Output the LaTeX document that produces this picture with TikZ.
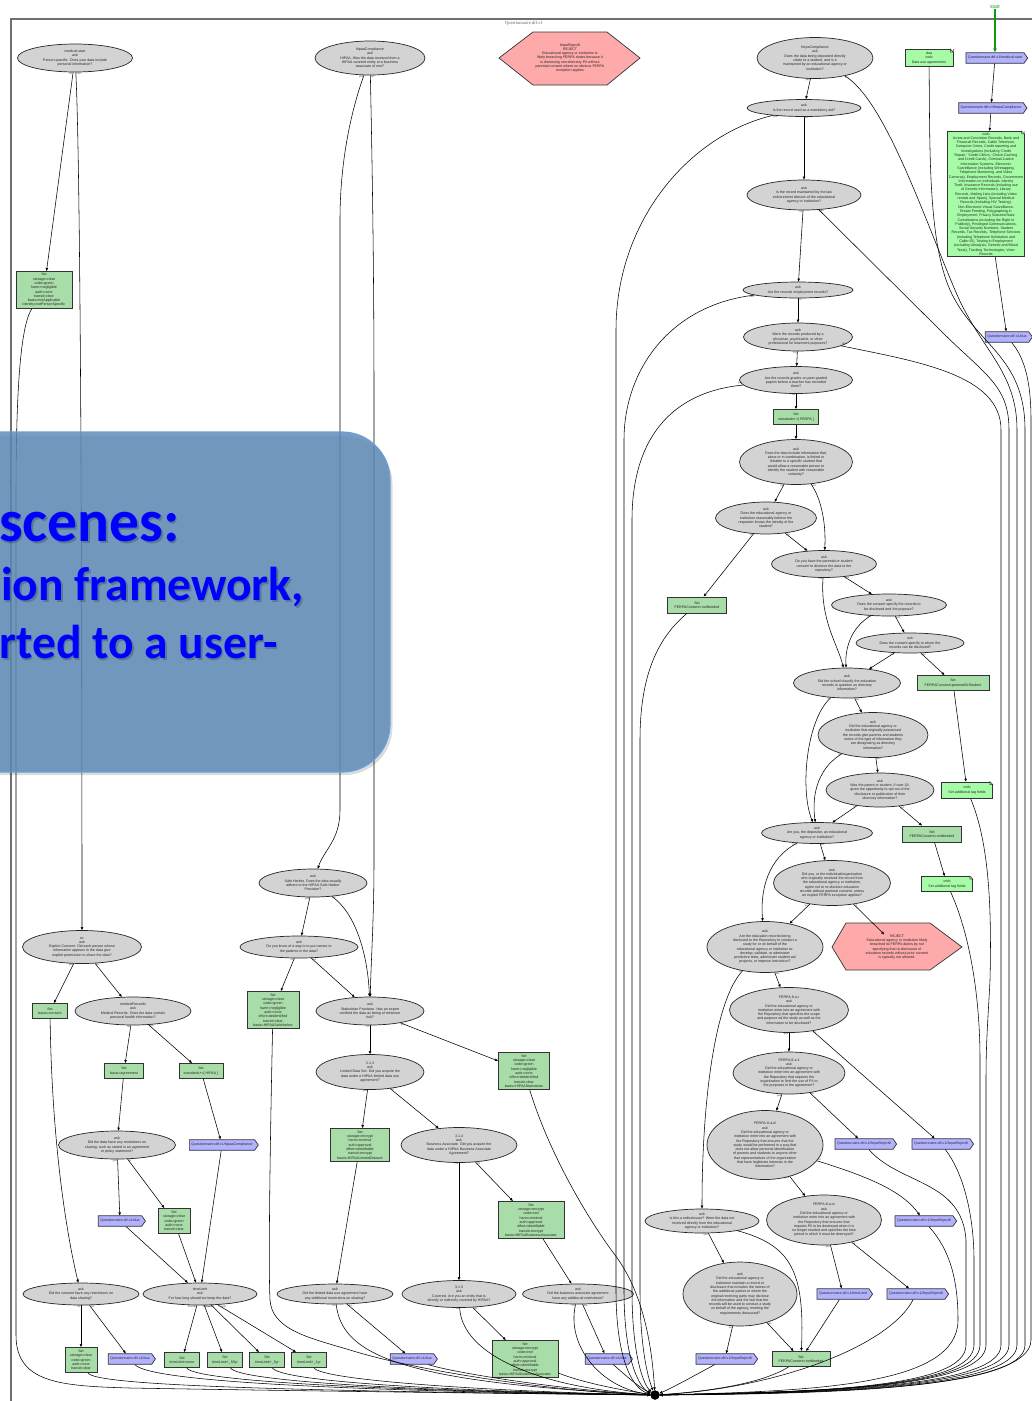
\documentclass[tikz,border=0pt]{standalone}
\usepackage{fontspec}
\setmainfont{Liberation Serif}
\setsansfont{Liberation Sans}
\newfontfamily\ovfont{Carlito}
\usetikzlibrary{shapes.geometric,shapes.symbols,arrows.meta}
\definecolor{askfill}{HTML}{D3D3D3}
\definecolor{setfill}{HTML}{A8DCA8}
\definecolor{todofill}{HTML}{A6FCA6}
\definecolor{qfill}{HTML}{B2B2FF}
\definecolor{rejfill}{HTML}{FFAAAA}
\definecolor{ovfill}{HTML}{5E8AB6}
\definecolor{ovedge}{HTML}{6A9FD6}
\definecolor{framegray}{HTML}{707070}
\definecolor{startgreen}{HTML}{109A10}
\tikzset{
  tx/.style={font=\sffamily\fontsize{3.6}{4.3}\selectfont, align=center, text=black!85},
  ask/.style={tx, ellipse, draw=black!85, line width=0.7pt, fill=askfill, inner sep=0pt},
  setb/.style={tx, rectangle, draw=black!80, line width=0.9pt, fill=setfill, inner sep=1pt},
  todo/.style={tx, rectangle, draw=black!80, line width=0.7pt, fill=todofill, inner sep=1.2pt},
  qlink/.style={tx, signal, signal to=east, signal pointer angle=110, draw=black!80, line width=0.7pt, fill=qfill, inner xsep=2pt, inner ysep=1pt, minimum height=10.5},
  rejtxt/.style={tx, inner sep=0pt},
  edge/.style={draw=black, line width=0.55pt, -{Triangle[length=3pt,width=2.4pt]}},
  gedge/.style={draw=startgreen, line width=1.1pt, -{Triangle[length=4pt,width=3.2pt]}},
  lbl/.style={font=\sffamily\fontsize{2.7}{3}\selectfont, text=black!75, inner sep=0.4pt},
  lL/.style={lbl, pos=0, anchor=north east},
  lR/.style={lbl, pos=0, anchor=north west},
  ovtxt/.style={anchor=base east, inner sep=0pt, text=blue},
}
\newcommand{\notefold}[1]{%
  \fill[white] (#1.north east) -- ([xshift=-3pt]#1.north east) -- ([yshift=-3pt]#1.north east) -- cycle;
  \draw[line width=0.5pt, black!80] ([xshift=-3pt]#1.north east) -- ([xshift=-3pt,yshift=-3pt]#1.north east) -- ([yshift=-3pt]#1.north east) -- cycle;}
\begin{document}
\begin{tikzpicture}[x=1pt,y=-1pt]
\useasboundingbox (0,0) rectangle (1032,1401);
% frame
\draw[framegray, line width=1.1pt] (11,1420) -- (11,19) -- (1045,19);
\node[font=\rmfamily\fontsize{4.6}{5}\selectfont, text=black!60, inner sep=0] (title) at (524,23) {Questionnaire.dtf-c1};

% ---------- hexagons ----------
\draw[fill=rejfill, line width=0.7pt, draw=black!80] (499,58) -- (533,32) -- (607,32) -- (640,58) -- (607,85) -- (533,85) -- cycle;
\node[rejtxt] (rej1) at (570,58) {ferpaReject8\\REJECT\\Educational agency or institution is\\likely breaching FERPA duties because it\\is disclosing non-directory PII without\\parental consent where no obvious FERPA\\exception applies};
\draw[fill=rejfill, line width=0.7pt, draw=black!80] (832,947) -- (846,923) -- (930,923) -- (962,947) -- (930,970) -- (846,970) -- cycle;
\node[rejtxt] (rej2) at (897,947) {REJECT\\Educational agency or institution likely\\breached its FERPA duties by not\\specifying that re-disclosure of\\education records without prior consent\\is typically not allowed.};

% ---------- top right ----------
\node[font=\sffamily\fontsize{5}{6}\selectfont, text=startgreen, inner sep=0.5pt] (start) at (995,7) {start};
\node[qlink] (qms) at (995,58) {Questionnaire.dtf-c1/medical-start};
\node[qlink] (qfc) at (991,108) {Questionnaire.dtf-c1/ferpaCompliance};
\node[todo] (todobig) at (986,194) {todo\\Arrest and Conviction Records, Bank and\\Financial Records, Cable Television,\\Computer Crime, Credit reporting and\\Investigations (including `Credit\\Repair,' `Credit Clinics,' Check-Cashing\\and Credit Cards), Criminal Justice\\Information Systems, Electronic\\Surveillance (including Wiretapping,\\Telephone Monitoring, and Video\\Cameras), Employment Records, Government\\Information on Individuals, Identity\\Theft, Insurance Records (including use\\of Genetic Information), Library\\Records, Mailing Lists (including Video\\rentals and Spam), Special Medical\\Records (including HIV Testing),\\Non-Electronic Visual Surveillance.\\Breast-Feeding, Polygraphing in\\Employment, Privacy Statutes/State\\Constitutions (including the Right to\\Publicity), Privileged Communications,\\Social Security Numbers, Student\\Records, Tax Records, Telephone Services\\(including Telephone Solicitation and\\Caller ID), Testing in Employment\\(including Urinalysis, Genetic and Blood\\Tests), Tracking Technologies, Voter\\Records};
\notefold{todobig}
\node[qlink] (qduaR) at (1007,337) {Questionnaire.dtf-c1/dua};
\node[todo, minimum width=48, minimum height=17] (duanote) at (929,58) {dua\\todo\\Data use agreements};
\notefold{duanote}

% ---------- FERPA chain ----------
\node[ask, minimum width=116, minimum height=41] (fc) at (815,58) {ferpaCompliance\\ask\\Does the data being deposited directly\\relate to a student, and is it\\maintained by an educational agency or\\institution?};
\node[ask, minimum width=114, minimum height=17] (mand) at (804,108) {ask\\Is the record used as a mandatory aid?};
\node[ask, minimum width=114, minimum height=30] (law) at (804,195) {ask\\Is the record maintained by the law\\enforcement division of the educational\\agency or institution?};
\node[ask, minimum width=110, minimum height=16] (emp) at (798,290) {ask\\Are the records employment records?};
\node[ask, minimum width=109, minimum height=28] (phys) at (798,337) {ask\\Were the records produced by a\\physician, psychiatrist, or other\\professional for treatment purposes?};
\node[ask, minimum width=113, minimum height=27] (peer) at (796,380) {ask\\Are the records grades on peer-graded\\papers before a teacher has recorded\\them?};
\node[setb, minimum width=45, minimum height=15] (setF) at (796,417) {Set\\standards+=[ FERPA ]};
\node[ask, minimum width=113, minimum height=45] (ddi) at (796,462) {ask\\Does the data include information that,\\alone or in combination, is linked or\\linkable to a specific student that\\would allow a reasonable person to\\identify the student with reasonable\\certainty?};
\node[ask, minimum width=101, minimum height=32] (rb) at (766,518) {ask\\Does the educational agency or\\institution reasonably believe the\\requester knows the identity of the\\student?};
\node[ask, minimum width=105, minimum height=27] (pc) at (824,564) {ask\\Do you have the parental or student\\consent to disclose the data to the\\repository?};
\node[setb, minimum width=59, minimum height=16] (nn1) at (697,605) {Set\\FERPAConsent=notNeeded};
\node[ask, minimum width=115, minimum height=22] (csr) at (889,605) {ask\\Does the consent specify the records to\\be disclosed and the purpose?};
\node[ask, minimum width=108, minimum height=20] (ctw) at (910,643) {ask\\Does the consent specify to whom the\\records can be disclosed?};
\node[setb, minimum width=72, minimum height=15] (sps) at (953,683) {Set\\FERPAConsent=parentalOrStudent};
\node[ask, minimum width=107, minimum height=30] (sc) at (847,683) {ask\\Did the school classify the education\\records in question as directory\\information?};
\node[ask, minimum width=110, minimum height=45] (op) at (873,735) {ask\\Did the educational agency or\\institution that originally possessed\\the records give parents and students\\notice of the type of information they\\are designating as directory\\information?};
\node[todo, minimum width=51, minimum height=16] (todo1) at (967,790) {todo\\Set additional tag fields};
\notefold{todo1}
\node[ask, minimum width=108, minimum height=34] (oo) at (880,790) {ask\\Was the parent or student, if over 18,\\given the opportunity to opt out of the\\disclosure or publication of their\\directory information?};
\node[ask, minimum width=111, minimum height=21] (ay) at (817,833) {ask\\Are you, the depositor, an educational\\agency or institution?};
\node[setb, minimum width=59, minimum height=16] (nn2) at (932,834) {Set\\FERPAConsent=notNeeded};
\node[todo, minimum width=51, minimum height=15] (todo2) at (947,884) {todo\\Set additional tag fields};
\notefold{todo2}
\node[ask, minimum width=117, minimum height=45] (dya) at (832,883) {ask\\Did you, or the individual/organization\\who originally received the record from\\the educational agency or institution,\\agree not to re-disclose education\\records without parental consent, unless\\an explicit FERPA exception applies?};
\node[ask, minimum width=116, minimum height=51] (study) at (765,947) {ask\\Are the education records being\\disclosed to the Repository to conduct a\\study for or on behalf of the\\educational agency or institution to:\\develop, validate, or administer\\predictive tests, administer student aid\\projects, or improve instruction?};
\node[ask, minimum width=119, minimum height=45] (f1) at (789,1010) {FERPA-8-a-i\\ask\\Did the educational agency or\\institution enter into an agreement with\\the Repository that specifies the scope\\and purpose od the study as well as the\\information to be disclosed?};
\node[ask, minimum width=112, minimum height=42] (f2) at (789,1073) {FERPA-8-a-ii\\ask\\Did the educational agency or\\institution enter into an agreement with\\the Repository that requires the\\organization to limit the use of PII to\\the purposes in the agreement?};
\node[ask, minimum width=116, minimum height=69] (f3) at (765,1145) {FERPA-8-a-iii\\ask\\Did the educational agency or\\institution enter into an agreement with\\the Repository that ensures that the\\study would be performed in a way that\\does not allow personal identification\\of parents and students to anyone other\\that representatives of the organization\\that have legitimate interests in the\\information?};
\node[qlink] (q8b) at (864,1144) {Questionnaire.dtf-c1/ferpaReject8};
\node[qlink] (q8a) at (941,1144) {Questionnaire.dtf-c1/ferpaReject8};
\node[ask, minimum width=114, minimum height=24] (redis) at (702,1221) {ask\\Is this a redisclosure? Were the data not\\received directly from the educational\\agency or institution?};
\node[ask, minimum width=115, minimum height=50] (f4) at (824,1220) {FERPA-8-a-iv\\ask\\Did the educational agency or\\institution enter into an agreement with\\the Repository that ensures that\\requires PII to be destroyed when it is\\no longer needed and specifies the time\\period in which it must be destroyed?};
\node[qlink] (q8c) at (924,1221) {Questionnaire.dtf-c1/ferpaReject8};
\node[ask, minimum width=114, minimum height=64] (mr2) at (740,1294) {ask\\Did the educational agency or\\institution maintain a record or\\disclosure that includes the names of\\the additional parties to whom the\\original receiving party may disclose\\the information and the fact that the\\records will be used to conduct a study\\on behalf of the agency, meeting the\\requirements discussed?};
\node[qlink] (qtl) at (843,1294) {Questionnaire.dtf-c1/timeLimit};
\node[qlink] (q8d) at (916,1294) {Questionnaire.dtf-c1/ferpaReject8};
\node[qlink] (q8e) at (725,1359) {Questionnaire.dtf-c1/ferpaReject8};
\node[setb, minimum width=58, minimum height=15] (nn3) at (801,1359) {Set\\FERPAConsent=notNeeded};

% ---------- HIPAA / left ----------
\node[ask, minimum width=115, minimum height=28] (ms) at (75,58) {medical-start\\ask\\Person-specific. Does your data include\\personal information?};
\node[ask, minimum width=110, minimum height=34] (hc) at (370,58) {hipaaCompliance\\ask\\HIPAA. Was the data received from a\\HIPAA covered entity or a business\\associate of one?};
\node[setb, minimum width=56, minimum height=37] (na) at (44,290) {Set\\storage=clear\\code=green\\harm=negligible\\auth=none\\transit=clear\\basis=notApplicable\\identity=notPersonSpecific};
\node[ask, minimum width=119, minimum height=33] (ec) at (82,947) {ec\\ask\\Explicit Consent. Did each person whose\\information appears in the data give\\explicit permission to share the data?};
\node[setb, minimum width=35, minimum height=15] (sc1) at (50,1011) {Set\\basis=consent};
\node[ask, minimum width=116, minimum height=28] (medr) at (133,1011) {medicalRecords\\ask\\Medical Records. Does the data contain\\personal health information?};
\node[setb, minimum width=39, minimum height=15] (sba) at (124,1071) {Set\\basis=agreement};
\node[setb, minimum width=44, minimum height=15] (shp) at (201,1071) {Set\\standards+=[ HIPAA ]};
\node[ask, minimum width=117, minimum height=28] (dr) at (117,1145) {ask\\Did the data have any restrictions on\\sharing, such as stated in an agreement\\or policy statement?};
\node[qlink] (qhc) at (222,1145) {Questionnaire.dtf-c1/hipaaCompliance};
\node[qlink] (qd1) at (120,1221) {Questionnaire.dtf-c1/dua};
\node[setb, minimum width=32, minimum height=25] (sgc) at (174,1221) {Set\\storage=clear\\code=green\\auth=none\\transit=clear};
\node[ask, minimum width=116, minimum height=22] (cr) at (81,1294) {ask\\Did the consent have any restrictions on\\data sharing?};
\node[ask, minimum width=114, minimum height=22] (tl) at (200,1294) {timeLimit\\ask\\For how long should we keep the data?};
\node[setb, minimum width=32, minimum height=25] (cset) at (81,1360) {Set\\storage=clear\\code=green\\auth=none\\transit=clear};
\node[qlink] (qd2) at (130,1359) {Questionnaire.dtf-c1/dua};
\node[setb, minimum width=35, minimum height=15] (t1) at (182,1360) {Set\\timeLimit=none};
\node[setb, minimum width=35, minimum height=15] (t2) at (225,1360) {Set\\timeLimit+\_50yr};
\node[setb, minimum width=35, minimum height=15] (t3) at (267,1360) {Set\\timeLimit+\_5yr};
\node[setb, minimum width=35, minimum height=15] (t4) at (309,1360) {Set\\timeLimit+\_1yr};

\node[ask, minimum width=108, minimum height=28] (sh) at (313,883) {ask\\Safe Harbor. Does the data visually\\adhere to the HIPAA Safe Harbor\\Provision?};
\node[ask, minimum width=118, minimum height=22] (dk) at (299,947) {ask\\Do you know of a way to to put names to\\the patients in the data?};
\node[setb, minimum width=52, minimum height=37] (shs) at (273,1010) {Set\\storage=clear\\code=green\\harm=negligible\\auth=none\\effort=deidentified\\transit=clear\\basis=HIPAASafeHarbor};
\node[ask, minimum width=108, minimum height=28] (st) at (370,1011) {ask\\Statistician Provision. Has an expert\\certified the data as being of minimum\\risk?};
\node[setb, minimum width=51, minimum height=37] (sts) at (524,1071) {Set\\storage=clear\\code=green\\harm=negligible\\auth=none\\effort=deidentified\\transit=clear\\basis=HIPAAStatistician};
\node[ask, minimum width=108, minimum height=35] (s313) at (370,1072) {3.1.3\\ask\\Limited Data Set. Did you acquire the\\data under a HIPAA limited data use\\agreement?};
\node[setb, minimum width=59, minimum height=33] (lds) at (360,1145) {Set\\storage=encrypt\\harm=minimal\\auth=approval\\effort=identifiable\\transit=encrypt\\basis=HIPAALimitedDataset};
\node[ask, minimum width=116, minimum height=35] (s314) at (459,1145) {3.1.4\\ask\\Business Associate. Did you acquire the\\data under a HIPAA Business Associate\\Agreement?};
\node[setb, minimum width=66, minimum height=37] (bas) at (531,1220) {Set\\storage=encrypt\\code=red\\harm=minimal\\auth=approval\\effort=identifiable\\transit=encrypt\\basis=HIPAABusinessAssociate};
\node[ask, minimum width=116, minimum height=20] (lr) at (335,1294) {ask\\Did the limited data use agreement have\\any additional restrictions on sharing?};
\node[ask, minimum width=114, minimum height=27] (s315) at (459,1294) {3.1.5\\ask\\Covered. Are you an entity that is\\directly or indirectly covered by HIPAA?};
\node[ask, minimum width=111, minimum height=20] (bar) at (578,1294) {ask\\Did the business associate agreement\\have any additional restrictions?};
\node[qlink] (qd3) at (412,1359) {Questionnaire.dtf-c1/dua};
\node[setb, minimum width=66, minimum height=37] (bas2) at (525,1359) {Set\\storage=encrypt\\code=red\\harm=minimal\\auth=approval\\effort=identifiable\\transit=encrypt\\basis=HIPAABusinessAssociate};
\node[qlink] (qd4) at (607,1359) {Questionnaire.dtf-c1/dua};

\node[circle, fill=black, draw=black, inner sep=0pt, minimum size=9] (sink) at (655,1395) {};

% ================= EDGES =================
% top right
\draw[gedge] (start) -- (qms);
\draw[edge] (qms) -- (qfc);
\draw[edge] (qfc) -- (todobig);
\draw[edge] (todobig) -- (qduaR);
\draw[edge] (qduaR) .. controls (1022,355) and (1031,375) .. (1031,420) -- (1031,1340) .. controls (1031,1390) and (820,1394) .. (sink);
\draw[edge] (duanote) .. controls (930,150) and (928,240) .. (950,290) .. controls (975,345) and (1025,355) .. (1025,430) -- (1025,1345) .. controls (1025,1390) and (820,1393) .. (sink);

% FERPA chain
\draw[edge] (fc) -- (mand) node[lL]{yes};
\draw[edge] (fc) .. controls (885,100) and (925,220) .. (955,290) node[lR]{no} .. controls (980,350) and (1017,370) .. (1017,430) -- (1017,1345) .. controls (1017,1389) and (820,1393) .. (sink);
\draw[edge] (mand) -- (law) node[lR]{no};
\draw[edge] (mand) .. controls (690,135) and (616,220) .. (616,330) node[lbl,pos=0,anchor=north west]{yes} -- (616,1290) .. controls (616,1365) and (635,1390) .. (sink);
\draw[edge] (law) -- (emp) node[lL]{no};
\draw[edge] (law) -- (940,330) node[lR]{yes} .. controls (985,375) and (1009,385) .. (1009,430) -- (1009,1345) .. controls (1009,1388) and (820,1393) .. (sink);
\draw[edge] (emp) -- (phys) node[lR]{no};
\draw[edge] (emp) .. controls (670,305) and (624,370) .. (624,440) node[lL]{yes} -- (624,1290) .. controls (624,1362) and (640,1388) .. (sink);
\draw[edge] (phys) -- (peer) node[lL]{no};
\draw[edge] (phys) .. controls (920,362) and (1001,375) .. (1001,430) node[lbl,pos=0,anchor=south west]{yes} -- (1001,1345) .. controls (1001,1388) and (820,1392) .. (sink);
\draw[edge] (peer) -- (setF) node[lL]{no};
\draw[edge] (peer) .. controls (670,392) and (632,440) .. (632,520) node[lbl,pos=0,anchor=south east]{yes} -- (632,1290) .. controls (632,1360) and (645,1386) .. (sink);
\draw[edge] (setF) -- (ddi);
\draw[edge] (ddi) -- (rb) node[lL]{no};
\draw[edge] (ddi) .. controls (822,500) and (826,525) .. (pc) node[lR]{yes};
\draw[edge] (rb) -- (nn1) node[lL]{no};
\draw[edge] (rb) -- (pc) node[lR]{yes};
\draw[edge] (nn1) .. controls (655,640) and (640,680) .. (640,740) -- (640,1290) .. controls (640,1355) and (650,1383) .. (sink);
\draw[edge] (pc) .. controls (820,620) and (838,645) .. (sc) node[lL]{no};
\draw[edge] (pc) -- (csr) node[lR]{yes};
\draw[edge] (csr) .. controls (850,628) and (845,650) .. (sc) node[lL]{no};
\draw[edge] (csr) -- (ctw) node[lR]{yes};
\draw[edge] (ctw) -- (sc) node[lL]{no};
\draw[edge] (ctw) -- (sps) node[lR]{yes};
\draw[edge] (sps) -- (todo1);
\draw[edge] (todo1) .. controls (988,840) and (992,900) .. (990,980) .. controls (988,1020) and (986,1040) .. (986,1080) -- (986,1345) .. controls (986,1388) and (820,1392) .. (sink);
\draw[edge] (sc) .. controls (806,720) and (800,790) .. (ay) node[lL]{no};
\draw[edge] (sc) -- (op) node[lR]{yes};
\draw[edge] (op) .. controls (815,770) and (812,800) .. (ay) node[lL]{no};
\draw[edge] (op) -- (oo) node[lR]{yes};
\draw[edge] (oo) -- (ay) node[lL]{no};
\draw[edge] (oo) -- (nn2) node[lR]{yes};
\draw[edge] (nn2) -- (todo2);
\draw[edge] (todo2) .. controls (968,930) and (980,990) .. (980,1060) -- (980,1345) .. controls (980,1388) and (820,1392) .. (sink);
\draw[edge] (ay) .. controls (768,858) and (760,890) .. (study) node[lL]{yes};
\draw[edge] (ay) -- (dya) node[lR]{no};
\draw[edge] (dya) -- (study) node[lL]{yes};
\draw[edge] (dya) -- (rej2) node[lR]{no};
\draw[edge] (study) -- (f1) node[lR]{yes};
\draw[edge] (study) .. controls (715,1000) and (702,1100) .. (redis) node[lL]{no};
\draw[edge] (f1) -- (f2) node[lL]{yes};
\draw[edge] (f1) -- (q8a) node[lR]{no};
\draw[edge] (f2) -- (f3) node[lL]{yes};
\draw[edge] (f2) -- (q8b) node[lR]{no};
\draw[edge] (f3) -- (f4) node[lL]{yes};
\draw[edge] (f3) .. controls (880,1180) and (905,1195) .. (q8c) node[lbl,pos=0,anchor=south west]{no};
\draw[edge] (f4) -- (qtl) node[lL]{yes};
\draw[edge] (f4) -- (q8d) node[lR]{no};
\draw[edge] (redis) -- (mr2) node[lL]{yes};
\draw[edge] (redis) .. controls (790,1245) and (805,1270) .. (nn3) node[lR]{no};
\draw[edge] (mr2) -- (q8e) node[lL]{no};
\draw[edge] (mr2) -- (nn3) node[lR]{yes};
\draw[edge] (qtl) -- (nn3);
\draw[edge] (q8a) .. controls (965,1175) and (974,1220) .. (974,1260) -- (974,1345) .. controls (974,1388) and (820,1392) .. (sink);
\draw[edge] (q8b) .. controls (900,1185) and (962,1180) .. (966,1240) -- (966,1345) .. controls (966,1388) and (820,1392) .. (sink);
\draw[edge] (q8c) .. controls (950,1250) and (958,1280) .. (958,1320) .. controls (958,1385) and (820,1391) .. (sink);
\draw[edge] (q8d) .. controls (890,1345) and (780,1388) .. (sink);
\draw[edge] (nn3) .. controls (760,1385) and (700,1392) .. (sink);
\draw[edge] (q8e) .. controls (690,1378) and (670,1389) .. (sink);

% left part
\draw[edge] (ms) -- (na) node[lL]{no};
\draw[edge] (ms) .. controls (80,150) and (82,500) .. (ec) node[lR]{yes};
\draw[edge] (na) .. controls (18,330) and (16,420) .. (16,500) -- (16,1335) .. controls (16,1383) and (60,1386) .. (130,1388) .. controls (300,1391) and (550,1394) .. (sink);
\draw[edge] (hc) .. controls (348,120) and (340,170) .. (340,220) node[lL]{yes} -- (340,810) .. controls (340,840) and (324,850) .. (sh);
\draw[edge] (hc) .. controls (373,200) and (374,300) .. (374,400) node[lR]{no} -- (374,860) .. controls (374,920) and (371,960) .. (st);
\draw[edge] (sh) -- (dk) node[lL]{yes};
\draw[edge] (sh) .. controls (358,915) and (368,960) .. (st) node[lR]{no};
\draw[edge] (dk) -- (shs) node[lL]{no};
\draw[edge] (dk) -- (st) node[lR]{yes};
\draw[edge] (shs) .. controls (271,1100) and (268,1260) .. (270,1300) .. controls (272,1330) and (310,1338) .. (350,1350) .. controls (420,1372) and (560,1392) .. (sink);
\draw[edge] (st) -- (sts) node[lR]{yes};
\draw[edge] (st) -- (s313) node[lL]{no};
\draw[edge] (sts) .. controls (548,1150) and (585,1215) .. (615,1255) .. controls (645,1295) and (652,1350) .. (sink);
\draw[edge] (s313) -- (lds) node[lL]{yes};
\draw[edge] (s313) -- (s314) node[lR]{no};
\draw[edge] (lds) -- (lr);
\draw[edge] (s314) -- (bas) node[lR]{yes};
\draw[edge] (s314) -- (s315) node[lL]{no};
\draw[edge] (bas) -- (bar);
\draw[edge] (lr) .. controls (342,1355) and (400,1382) .. (sink) node[lL]{no};
\draw[edge] (lr) -- (qd3) node[lR]{yes};
\draw[edge] (s315) .. controls (462,1355) and (540,1388) .. (sink) node[lL]{no};
\draw[edge] (s315) -- (bas2) node[lR]{yes};
\draw[edge] (bar) .. controls (566,1345) and (600,1388) .. (sink) node[lL]{no};
\draw[edge] (bar) -- (qd4) node[lR]{yes};
\draw[edge] (qd3) .. controls (450,1372) and (560,1390) .. (sink);
\draw[edge] (bas2) .. controls (580,1382) and (620,1390) .. (sink);
\draw[edge] (qd4) .. controls (625,1375) and (640,1388) .. (sink);

\draw[edge] (ec) -- (sc1) node[lL]{yes};
\draw[edge] (ec) -- (medr) node[lR]{no};
\draw[edge] (sc1) .. controls (52,1150) and (68,1240) .. (cr);
\draw[edge] (medr) -- (sba) node[lL]{no};
\draw[edge] (medr) -- (shp) node[lR]{yes};
\draw[edge] (sba) -- (dr);
\draw[edge] (shp) -- (qhc);
\draw[edge] (qhc) -- (tl);
\draw[edge] (dr) -- (qd1) node[lL]{yes};
\draw[edge] (dr) -- (sgc) node[lR]{no};
\draw[edge] (qd1) -- (tl);
\draw[edge] (sgc) -- (tl);
\draw[edge] (cr) -- (cset) node[lL]{no};
\draw[edge] (cr) -- (qd2) node[lR]{yes};
\draw[edge] (tl) -- (t1) node[lL]{forever};
\draw[edge] (tl) -- (t2) node[lbl,pos=0,anchor=north west,xshift=-1pt]{50 years};
\draw[edge] (tl) -- (t3) node[lbl,pos=0,anchor=north east,xshift=1pt]{5 years};
\draw[edge] (tl) -- (t4) node[lR]{1 year};
\draw[edge] (cset) .. controls (95,1386) and (300,1391) .. (sink);
\draw[edge] (qd2) .. controls (150,1382) and (350,1391) .. (sink);
\draw[edge] (t1) .. controls (195,1382) and (400,1391) .. (sink);
\draw[edge] (t2) .. controls (240,1382) and (420,1391) .. (sink);
\draw[edge] (t3) .. controls (282,1382) and (450,1391) .. (sink);
\draw[edge] (t4) .. controls (322,1380) and (480,1391) .. (sink);

% ================= OVERLAY =================
\fill[black, opacity=0.14, rounded corners=48] (-58,436) rectangle (392.5,775);
\fill[ovfill, opacity=0.84, rounded corners=48] (-60,432) rectangle (390,772);
\draw[ovedge, line width=1.2pt, rounded corners=48] (-60,432) rectangle (390,772);
\node[ovtxt, text=black, opacity=0.2, font=\ovfont\bfseries\fontsize{59.5}{60}\selectfont] (ovs1) at (181.5,543) {scenes:};
\node[ovtxt, font=\ovfont\bfseries\fontsize{59.5}{60}\selectfont] (ov1) at (180,541) {scenes:};
\node[ovtxt, text=black, opacity=0.2, font=\ovfont\bfseries\fontsize{47.5}{48}\selectfont] (ovs2) at (305.5,602) {ion framework,};
\node[ovtxt, font=\ovfont\bfseries\fontsize{47.5}{48}\selectfont] (ov2) at (304,600) {ion framework,};
\node[ovtxt, text=black, opacity=0.2, font=\ovfont\bfseries\fontsize{47.5}{48}\selectfont] (ovs3) at (279.5,660) {rted to a user-};
\node[ovtxt, font=\ovfont\bfseries\fontsize{47.5}{48}\selectfont] (ov3) at (278,658) {rted to a user-};
\end{tikzpicture}
\end{document}
